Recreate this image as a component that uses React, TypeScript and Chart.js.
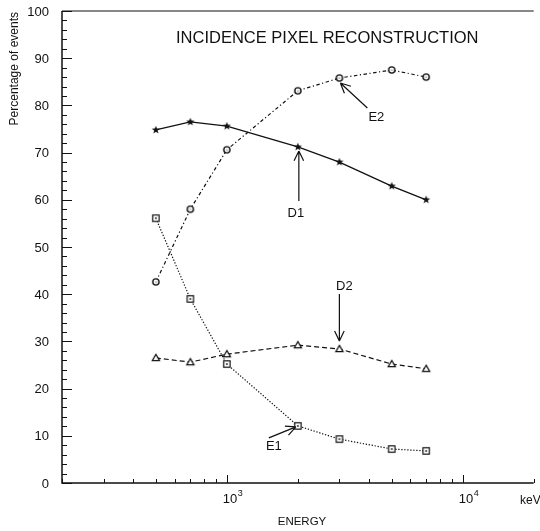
import React, { useEffect, useRef } from "react";
import { Chart, registerables } from "chart.js";

Chart.register(...registerables);

const energies = [500, 700, 1000, 2000, 3000, 5000, 7000];
const d1Values = [74.8, 76.5, 75.6, 71.2, 68.0, 62.9, 60.0];
const e2Values = [42.6, 58.0, 70.6, 83.1, 85.8, 87.5, 86.0];
const d2Values = [26.5, 25.6, 27.3, 29.2, 28.4, 25.2, 24.2];
const e1Values = [56.1, 39.0, 25.2, 12.1, 9.3, 7.2, 6.8];

const yTickLabels = [0, 10, 20, 30, 40, 50, 60, 70, 80, 90, 100];
const xDecadeLabels = [
  { value: 1000, base: "10", exp: "3" },
  { value: 10000, base: "10", exp: "4" },
];

const titleText = "INCIDENCE PIXEL RECONSTRUCTION";
const yTitle = "Percentage of events";
const xTitle = "ENERGY";
const xUnit = "keV";

// annotation arrows: anchored at a data point; offsets in pixels
const annotations = [
  { label: "D1", x: 2000, y: 71.2, tip: [1, 4], tail: [1, 54], text: [-2, 66] },
  { label: "E2", x: 3000, y: 85.8, tip: [1, 5], tail: [28, 30], text: [37, 39] },
  { label: "D2", x: 3000, y: 28.4, tip: [0, -8], tail: [0, -55], text: [5, -63] },
  { label: "E1", x: 2000, y: 12.1, tip: [-2, 1], tail: [-29, 12], text: [-24, 21] },
];

const INK = "#111";
const FONT = "'Liberation Sans', Arial, sans-serif";

function makeMarker(kind: string): HTMLCanvasElement {
  const s = 12;
  const c = document.createElement("canvas");
  c.width = s;
  c.height = s;
  const ctx = c.getContext("2d")!;
  const cx = s / 2;
  const cy = s / 2;
  ctx.strokeStyle = INK;
  ctx.fillStyle = INK;
  ctx.lineWidth = 1.2;
  if (kind === "star") {
    ctx.beginPath();
    for (let i = 0; i < 10; i++) {
      const r = i % 2 === 0 ? 4.3 : 1.8;
      const a = -Math.PI / 2 + (i * Math.PI) / 5;
      const px = cx + r * Math.cos(a);
      const py = cy + r * Math.sin(a);
      if (i === 0) ctx.moveTo(px, py);
      else ctx.lineTo(px, py);
    }
    ctx.closePath();
    ctx.fill();
  } else if (kind === "circle") {
    ctx.lineWidth = 1.4;
    ctx.fillStyle = "#fff";
    ctx.beginPath();
    ctx.arc(cx, cy, 3.1, 0, Math.PI * 2);
    ctx.fill();
    ctx.stroke();
    ctx.fillStyle = INK;
    ctx.beginPath();
    ctx.arc(cx, cy, 0.6, 0, Math.PI * 2);
    ctx.fill();
  } else if (kind === "square") {
    ctx.fillStyle = "#fff";
    ctx.fillRect(cx - 3.2, cy - 3.2, 6.4, 6.4);
    ctx.strokeRect(cx - 3.2, cy - 3.2, 6.4, 6.4);
    ctx.fillStyle = INK;
    ctx.fillRect(cx - 0.8, cy - 0.8, 1.6, 1.6);
  } else if (kind === "triangle") {
    ctx.fillStyle = "#fff";
    ctx.beginPath();
    ctx.moveTo(cx, cy - 3.6);
    ctx.lineTo(cx + 3.6, cy + 2.6);
    ctx.lineTo(cx - 3.6, cy + 2.6);
    ctx.closePath();
    ctx.fill();
    ctx.stroke();
  }
  return c;
}

function drawArrow(ctx: CanvasRenderingContext2D, x1: number, y1: number, x2: number, y2: number) {
  // from tail (x1,y1) to tip (x2,y2)
  ctx.beginPath();
  ctx.moveTo(x1, y1);
  ctx.lineTo(x2, y2);
  const a = Math.atan2(y2 - y1, x2 - x1);
  const L = 11;
  const spread = 0.45;
  ctx.moveTo(x2, y2);
  ctx.lineTo(x2 - L * Math.cos(a - spread), y2 - L * Math.sin(a - spread));
  ctx.moveTo(x2, y2);
  ctx.lineTo(x2 - L * Math.cos(a + spread), y2 - L * Math.sin(a + spread));
  ctx.stroke();
}

const framePlugin = {
  id: "frame",
  afterDraw(chart: any) {
    const { ctx, chartArea, scales } = chart;
    const xs = scales.x;
    const ys = scales.y;
    const { left, right, top, bottom } = chartArea;
    ctx.save();
    ctx.strokeStyle = INK;
    ctx.fillStyle = INK;
    ctx.setLineDash([]);

    // frame
    ctx.lineWidth = 1.5;
    ctx.beginPath();
    ctx.moveTo(left, top);
    ctx.lineTo(left, bottom);
    ctx.lineTo(right, bottom);
    ctx.stroke();
    ctx.lineWidth = 1;
    ctx.beginPath();
    ctx.moveTo(left, top);
    ctx.lineTo(right, top);
    ctx.stroke();

    // y ticks (inside)
    ctx.lineWidth = 1;
    for (let v = 0; v <= 100; v += 2) {
      const py = Math.round(ys.getPixelForValue(v)) + 0.5;
      const len = v % 10 === 0 ? 10 : 5;
      ctx.beginPath();
      ctx.moveTo(left, py);
      ctx.lineTo(left + len, py);
      ctx.stroke();
    }
    // x ticks (inside)
    for (let dec = 100; dec <= 10000; dec *= 10) {
      for (let m = 1; m <= 9; m++) {
        const v = dec * m;
        if (v < xs.min || v > xs.max) continue;
        const px = Math.round(xs.getPixelForValue(v)) + 0.5;
        const len = m === 1 ? 8 : 4;
        ctx.beginPath();
        ctx.moveTo(px, bottom);
        ctx.lineTo(px, bottom - len);
        ctx.stroke();
      }
    }

    // y tick labels
    ctx.font = `13px ${FONT}`;
    ctx.textAlign = "right";
    ctx.textBaseline = "middle";
    for (const v of yTickLabels) {
      ctx.fillText(String(v), left - 13, ys.getPixelForValue(v) + 1);
    }

    // x tick labels with superscripts
    ctx.textAlign = "left";
    ctx.textBaseline = "alphabetic";
    for (const t of xDecadeLabels) {
      const px = xs.getPixelForValue(t.value);
      ctx.font = `13px ${FONT}`;
      ctx.fillText(t.base, px - 4, bottom + 20);
      const w = ctx.measureText(t.base).width;
      ctx.font = `9px ${FONT}`;
      ctx.fillText(t.exp, px - 4 + w + 0.5, bottom + 13);
    }

    // axis titles
    ctx.font = `11.5px ${FONT}`;
    ctx.textAlign = "center";
    ctx.textBaseline = "middle";
    ctx.fillText(xTitle, 302, bottom + 39);
    ctx.font = `12px ${FONT}`;
    ctx.textAlign = "left";
    ctx.fillText(xUnit, 520, bottom + 18);

    ctx.save();
    ctx.translate(15, top);
    ctx.rotate(-Math.PI / 2);
    ctx.font = `12px ${FONT}`;
    ctx.textAlign = "right";
    ctx.textBaseline = "middle";
    ctx.fillText(yTitle, -1, 0);
    ctx.restore();

    // title
    ctx.font = `16.5px ${FONT}`;
    ctx.textAlign = "left";
    ctx.textBaseline = "middle";
    ctx.fillText(titleText, 176, 38);

    // annotations
    ctx.lineWidth = 1.2;
    ctx.font = `13px ${FONT}`;
    ctx.textAlign = "center";
    ctx.textBaseline = "middle";
    for (const a of annotations) {
      const px = xs.getPixelForValue(a.x);
      const py = ys.getPixelForValue(a.y);
      drawArrow(ctx, px + a.tail[0], py + a.tail[1], px + a.tip[0], py + a.tip[1]);
      ctx.fillText(a.label, px + a.text[0], py + a.text[1]);
    }
    ctx.restore();
  },
};

export default function App() {
  const canvasRef = useRef<HTMLCanvasElement | null>(null);

  useEffect(() => {
    const canvas = canvasRef.current!;
    const star = makeMarker("star");
    const circle = makeMarker("circle");
    const square = makeMarker("square");
    const triangle = makeMarker("triangle");
    const mk = (values: number[]) => energies.map((e, i) => ({ x: e, y: values[i] }));
    const chart = new Chart(canvas, {
      type: "line",
      data: {
        datasets: [
          { label: "D1", data: mk(d1Values), borderColor: INK, borderWidth: 1.3, pointStyle: star as any, pointRadius: 5 },
          { label: "E2", data: mk(e2Values), borderColor: INK, borderWidth: 1.2, borderDash: [3.5, 2.5, 1.2, 2.5], pointStyle: circle as any, pointRadius: 5 },
          { label: "D2", data: mk(d2Values), borderColor: INK, borderWidth: 1.2, borderDash: [5, 3], pointStyle: triangle as any, pointRadius: 5 },
          { label: "E1", data: mk(e1Values), borderColor: INK, borderWidth: 1.2, borderDash: [1.3, 1.7], pointStyle: square as any, pointRadius: 5 },
        ],
      },
      options: {
        animation: false,
        responsive: false,
        devicePixelRatio: 1,
        layout: { padding: { left: 62, top: 11, right: 0, bottom: 48 } },
        plugins: { legend: { display: false }, tooltip: { enabled: false } },
        elements: { line: { tension: 0, fill: false } },
        scales: {
          x: { type: "logarithmic", min: 200, max: 20000, display: false },
          y: { type: "linear", min: 0, max: 100, display: false },
        },
      },
      plugins: [framePlugin],
    });
    return () => chart.destroy();
  }, []);

  return (
    <div style={{ position: "absolute", left: 0, top: 0, width: 540, height: 531, overflow: "hidden", background: "#fff" }}>
      <canvas ref={canvasRef} width={540} height={531} style={{ width: 540, height: 531, display: "block" }} />
    </div>
  );
}
